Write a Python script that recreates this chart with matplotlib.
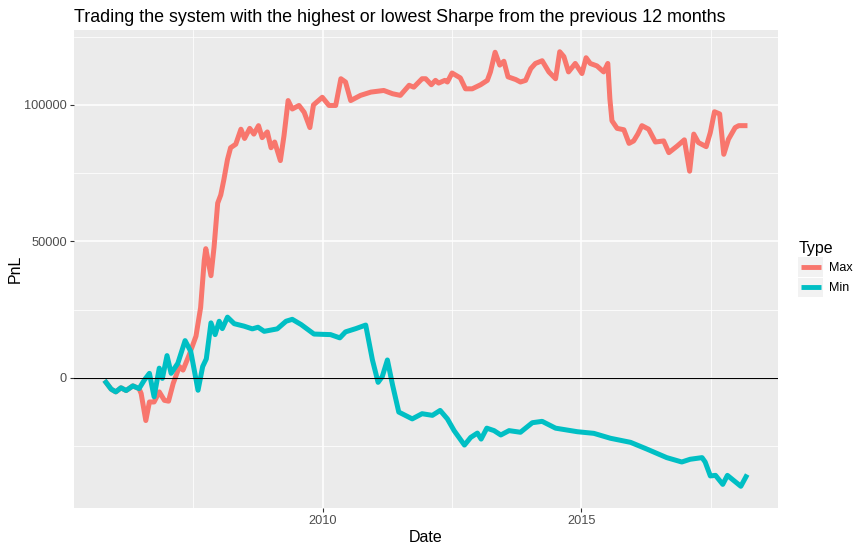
"""
Max / Min Sharpe system PnL chart.
"""

import numpy as np
import pandas as pd
import matplotlib
matplotlib.use("Agg")
import matplotlib.pyplot as plt
from matplotlib.lines import Line2D
from matplotlib.patches import Rectangle
from matplotlib.legend_handler import HandlerLine2D

# Decimal years and PnL
max_years = [2005.81, 2005.91, 2006.0, 2006.1, 2006.2, 2006.33, 2006.45, 2006.49, 2006.58,
             2006.65, 2006.74, 2006.84, 2006.94, 2007.02, 2007.11, 2007.23, 2007.3, 2007.42,
             2007.55, 2007.64, 2007.71, 2007.74, 2007.84, 2007.9, 2007.97, 2008.03, 2008.09,
             2008.16, 2008.22, 2008.32, 2008.42, 2008.49, 2008.59, 2008.67, 2008.76, 2008.83,
             2008.93, 2009.0, 2009.07, 2009.18, 2009.25, 2009.33, 2009.41, 2009.54, 2009.64,
             2009.75, 2009.82, 2009.99, 2010.12, 2010.25, 2010.35, 2010.44, 2010.54, 2010.73,
             2010.93, 2011.18, 2011.35, 2011.5, 2011.67, 2011.76, 2011.92, 2011.99, 2012.1,
             2012.18, 2012.24, 2012.36, 2012.41, 2012.5, 2012.66, 2012.76, 2012.89, 2013.05,
             2013.18, 2013.24, 2013.33, 2013.42, 2013.5, 2013.58, 2013.73, 2013.82, 2013.92,
             2014.02, 2014.11, 2014.24, 2014.37, 2014.5, 2014.58, 2014.66, 2014.75, 2014.88,
             2015.01, 2015.09, 2015.17, 2015.3, 2015.43, 2015.51, 2015.55, 2015.59, 2015.69,
             2015.82, 2015.92, 2016.01, 2016.09, 2016.17, 2016.3, 2016.43, 2016.59, 2016.69,
             2016.85, 2016.99, 2017.09, 2017.17, 2017.26, 2017.41, 2017.49, 2017.57, 2017.67,
             2017.75, 2017.84, 2017.97, 2018.04, 2018.16]
max_pnl = [-1700, -4200, -5200, -3700, -4700, -3000, -4000, -5800, -15700,
           -8900, -8900, -5200, -8300, -8600, -2100, 4100, 2800, 8400,
           15200, 25700, 43000, 47300, 37400, 47900, 64000, 67000, 72600,
           80000, 84300, 85600, 91100, 87700, 91400, 89300, 92400, 88000,
           90100, 84300, 86400, 79600, 88700, 101600, 98500, 99800, 97300,
           91700, 100000, 102800, 99800, 99800, 109600, 108400, 101600, 103500,
           104700, 105300, 104100, 103500, 107200, 106500, 109600, 109600, 107400,
           109000, 108000, 109000, 108400, 111700, 109900, 105900, 105900, 107400,
           109000, 112100, 119300, 114600, 116000, 110300, 109300, 108400, 109000,
           113300, 115200, 116200, 112100, 109600, 119500, 117700, 112100, 115200,
           111500, 117300, 115200, 114300, 112100, 115200, 102200, 94200, 91400,
           90900, 85900, 86800, 89300, 92400, 91100, 86400, 86800, 82500,
           84900, 87200, 75700, 89300, 86200, 84700, 89900, 97500, 96700,
           81900, 87400, 91700, 92400, 92400]

min_years = [2005.81, 2005.91, 2006.0, 2006.1, 2006.2, 2006.33, 2006.45, 2006.55, 2006.65,
             2006.74, 2006.84, 2006.9, 2006.99, 2007.07, 2007.2, 2007.34, 2007.45, 2007.59,
             2007.68, 2007.75, 2007.84, 2007.92, 2008.0, 2008.06, 2008.16, 2008.29, 2008.48,
             2008.64, 2008.75, 2008.87, 2009.12, 2009.29, 2009.41, 2009.58, 2009.83, 2010.15,
             2010.33, 2010.44, 2010.64, 2010.83, 2010.96, 2011.07, 2011.15, 2011.25, 2011.35,
             2011.47, 2011.73, 2011.92, 2012.12, 2012.27, 2012.41, 2012.54, 2012.74, 2012.86,
             2012.99, 2013.06, 2013.17, 2013.31, 2013.44, 2013.6, 2013.82, 2014.05, 2014.24,
             2014.5, 2014.92, 2015.24, 2015.56, 2015.95, 2016.27, 2016.65, 2016.94, 2017.1,
             2017.33, 2017.39, 2017.49, 2017.59, 2017.73, 2017.82, 2018.08, 2018.18]
min_pnl = [-1700, -4200, -5200, -3700, -4700, -3000, -4000, -900, 1600,
           -7000, 3500, -250, 8100, 1600, 5300, 13600, 9600, -4600,
           4100, 6900, 20100, 15800, 20700, 18000, 22200, 19800, 18900,
           17900, 18500, 17000, 17900, 20700, 21400, 19500, 16000, 15800,
           14600, 16800, 18000, 19300, 6500, -1700, 370, 6500, -2700,
           -12600, -15100, -13200, -13800, -12000, -15100, -19400, -24700, -21900,
           -20300, -22500, -18500, -19400, -21000, -19400, -20000, -16500, -16000,
           -18500, -19800, -20400, -22200, -23700, -26200, -29300, -30900, -29900,
           -29300, -30900, -36000, -35800, -39100, -35800, -39800, -36300]

MAX_COLOR = "#F8766D"
MIN_COLOR = "#00BFC4"


def to_dates(years):
    """Decimal years -> timestamps."""
    years = np.asarray(years)
    whole = np.floor(years).astype(int)
    return [pd.Timestamp(year=int(y), month=1, day=1) + pd.Timedelta(days=float(f) * 365.25)
            for y, f in zip(whole, years - whole)]


class KeyHandler(HandlerLine2D):
    """ggplot-like legend key: grey box with a line through it."""
    def create_artists(self, legend, orig_handle, xdescent, ydescent, width, height,
                       fontsize, trans):
        box = Rectangle((-xdescent, -ydescent), width, height, facecolor="#F2F2F2",
                        edgecolor="none", transform=trans)
        y = -ydescent + height / 2
        seg = Line2D([-xdescent + width * 0.1, -xdescent + width * 0.9], [y, y],
                     color=orig_handle.get_color(), lw=3.5, solid_capstyle="butt",
                     transform=trans)
        return [box, seg]


def main():
    plt.rcParams["font.family"] = ["Liberation Sans", "DejaVu Sans"]
    fig = plt.figure(figsize=(8.65, 5.51), dpi=100)
    ax = fig.add_axes([74 / 865, 1 - 508 / 551, (778 - 74) / 865, (508 - 30) / 551])
    ax.set_facecolor("#EBEBEB")

    max_dates = to_dates(max_years)
    min_dates = to_dates(min_years)

    line_max, = ax.plot(max_dates, max_pnl, color=MAX_COLOR, lw=3.6, label="Max",
                        solid_joinstyle="round", zorder=3)
    line_min, = ax.plot(min_dates, min_pnl, color=MIN_COLOR, lw=3.6, label="Min",
                        solid_joinstyle="round", zorder=4)
    ax.axhline(0, color="black", lw=0.8, zorder=5)

    # Axis limits with ggplot's 5% expansion
    all_dates = max_dates + min_dates
    x0, x1 = min(all_dates), max(all_dates)
    pad = (x1 - x0) * 0.05
    ax.set_xlim(x0 - pad, x1 + pad)
    lo = min(min(max_pnl), min(min_pnl))
    hi = max(max(max_pnl), max(min_pnl))
    ypad = (hi - lo) * 0.05
    ax.set_ylim(lo - ypad, hi + ypad)

    major_x = [pd.Timestamp("2010-01-01"), pd.Timestamp("2015-01-01")]
    minor_x = [pd.Timestamp("2007-07-02"), pd.Timestamp("2012-07-02"), pd.Timestamp("2017-07-02")]
    ax.set_xticks(major_x)
    ax.set_xticklabels(["2010", "2015"])
    ax.set_xticks(minor_x, minor=True)
    ax.set_yticks([0, 50000, 100000])
    ax.set_yticklabels(["0", "50000", "100000"])
    ax.set_yticks([-25000, 25000, 75000, 125000], minor=True)

    ax.grid(which="major", color="white", lw=1.1)
    ax.grid(which="minor", color="white", lw=0.55)
    ax.set_axisbelow(True)
    for spine in ax.spines.values():
        spine.set_visible(False)
    ax.tick_params(which="major", length=3, color="#333333", labelsize=9.2,
                   labelcolor="#4D4D4D", pad=2)
    ax.tick_params(which="minor", length=0)

    ax.set_xlabel("Date", fontsize=11.5, labelpad=2)
    ax.set_ylabel("PnL", fontsize=11.5, labelpad=1)
    ax.set_title("Trading the system with the highest or lowest Sharpe from the previous 12 months",
                 fontsize=12.9, loc="left", pad=6)

    leg = ax.legend(handles=[line_max, line_min], title="Type", loc="center left",
                    bbox_to_anchor=(1.022, 0.5), frameon=False, fontsize=9,
                    title_fontsize=11.5, handlelength=2.0, handleheight=2.0,
                    labelspacing=0.1, handletextpad=0.45, borderaxespad=0,
                    handler_map={Line2D: KeyHandler()})
    leg._legend_box.align = "left"

    fig.savefig("out.png", dpi=100)


if __name__ == "__main__":
    main()
